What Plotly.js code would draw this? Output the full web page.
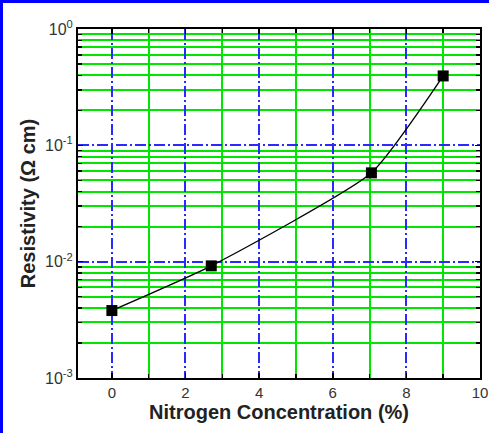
<!DOCTYPE html>
<html>
<head>
<meta charset="utf-8">
<script src="https://cdn.plot.ly/plotly-3.0.1.min.js"></script>
<style>
html,body{margin:0;padding:0;background:#fff;}
#wrap{position:relative;width:489px;height:433px;overflow:hidden;}
#chart{position:absolute;left:0;top:0;width:489px;height:433px;}
#bl{position:absolute;left:0;top:0;width:3px;height:433px;background:#0000ff;}
#bt{position:absolute;left:0;top:0;width:489px;height:3px;background:#0000ff;}
</style>
</head>
<body>
<div id="wrap"><div id="chart"></div><div id="bl"></div><div id="bt"></div></div>
<script>
// Data
var nitrogen = [0, 2.7, 7.05, 9.0];
var resistivity = [0.0038, 0.0092, 0.058, 0.395];
var xTickVals = [0, 2, 4, 6, 8, 10];
var xTickText = ['0', '2', '4', '6', '8', '10'];
var xMinorVals = [1, 3, 5, 7, 9];
var yTickVals = [0.001, 0.01, 0.1, 1];
var yTickText = ['10<sup>-3</sup>', '10<sup>-2</sup>', '10<sup>-1</sup>', '10<sup>0</sup>'];
var yMinorVals = [0.002, 0.003, 0.004, 0.005, 0.006, 0.007, 0.008, 0.009,
                  0.02, 0.03, 0.04, 0.05, 0.06, 0.07, 0.08, 0.09,
                  0.2, 0.3, 0.4, 0.5, 0.6, 0.7, 0.8, 0.9];

var green = '#00e600';
var blue = '#2a2aff';
var font = 'Liberation Sans, Arial, sans-serif';
var dashdot = '11px,3px,2px,3px';

var traces = [
  {
    x: nitrogen, y: resistivity, type: 'scatter', mode: 'lines',
    line: {color: '#000', width: 1.3, shape: 'spline', smoothing: 0.5},
    hoverinfo: 'skip', showlegend: false
  },
  {
    x: nitrogen, y: resistivity, type: 'scatter', mode: 'markers',
    marker: {symbol: 'square', color: '#000', size: 11},
    showlegend: false
  }
];

var layout = {
  width: 489, height: 433,
  margin: {l: 78, r: 9, t: 29, b: 55},
  paper_bgcolor: '#fff', plot_bgcolor: '#fff',
  showlegend: false,
  font: {family: font, color: '#222'},
  xaxis: {
    range: [-0.92, 10], tickmode: 'array', tickvals: xTickVals, ticktext: xTickText,
    showgrid: true, gridcolor: blue, gridwidth: 2, griddash: dashdot,
    zeroline: false, showline: true, linecolor: '#000', linewidth: 2, mirror: 'ticks',
    ticks: 'inside', ticklen: 5, tickwidth: 1.5, tickcolor: '#000',
    tickfont: {size: 15, color: '#333', family: font},
    minor: {tickmode: 'array', tickvals: xMinorVals, showgrid: true, gridcolor: green, gridwidth: 2, griddash: 'solid', ticks: 'inside', ticklen: 4, tickcolor: '#000'},
    title: {text: 'Nitrogen Concentration (%)', font: {size: 20, color: '#222', family: font, weight: 'bold'}, standoff: 3}
  },
  yaxis: {
    type: 'log', range: [-3, 0], tickmode: 'array', tickvals: yTickVals, ticktext: yTickText,
    showgrid: true, gridcolor: blue, gridwidth: 2, griddash: dashdot,
    zeroline: false, showline: true, linecolor: '#000', linewidth: 2, mirror: 'ticks',
    ticks: 'inside', ticklen: 5, tickwidth: 1.5, tickcolor: '#000',
    tickfont: {size: 16, color: '#333', family: font},
    minor: {tickmode: 'array', tickvals: yMinorVals, showgrid: true, gridcolor: green, gridwidth: 2, griddash: 'solid', ticks: 'inside', ticklen: 4, tickcolor: '#000'},
    title: {text: 'Resistivity (Ω cm)', font: {size: 20, color: '#222', family: font, weight: 'bold'}, standoff: 4}
  }
};

Plotly.newPlot('chart', traces, layout, {displayModeBar: false, staticPlot: true});
</script>
</body>
</html>
